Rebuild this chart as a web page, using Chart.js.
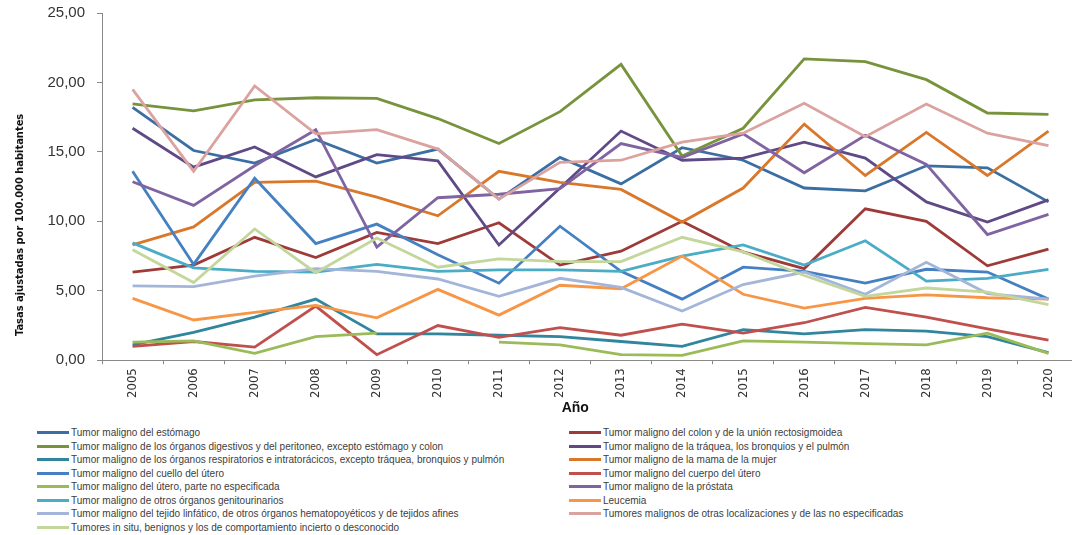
<!DOCTYPE html>
<html lang="es">
<head>
<meta charset="utf-8">
<title>Tasas ajustadas</title>
<script src="https://cdn.jsdelivr.net/npm/chart.js@4.4.1/dist/chart.umd.min.js"></script>
<style>
  html, body { margin: 0; padding: 0; background: #fff; overflow: hidden; }
  #wrap { position: relative; width: 1072px; height: 535px; overflow: hidden; }
  #chart { position: absolute; left: 0; top: 0; }
  #legend {
    position: absolute; left: 37px; top: 426px;
    display: grid; grid-template-columns: 532px 470px;
    font: 10px 'Liberation Sans', Arial, sans-serif; color: #404040;
  }
  .item { display: flex; align-items: center; height: 13.5px; white-space: nowrap; }
  .swatch { width: 32px; height: 3px; margin-right: 2px; flex: none; }
</style>
</head>
<body>
<div id="wrap">
  <canvas id="chart" width="1086" height="420"></canvas>
  <div id="legend"></div>
</div>
<script>
const years = ['2005', '2006', '2007', '2008', '2009', '2010', '2011', '2012',
  '2013', '2014', '2015', '2016', '2017', '2018', '2019', '2020'];
const yTicks = [0, 5, 10, 15, 20, 25];

const estomago =       [18.2, 15.1, 14.2, 15.9, 14.2, 15.2, 11.6, 14.6, 12.7, 15.3, 14.4, 12.4, 12.2, 14.0, 13.85, 11.4];
const colon =          [6.35, 6.85, 8.85, 7.4, 9.2, 8.4, 9.9, 6.85, 7.85, 10.0, 7.8, 6.6, 10.9, 10.0, 6.8, 8.0];
const digestivos =     [18.45, 17.95, 18.75, 18.9, 18.85, 17.4, 15.6, 17.9, 21.3, 14.7, 16.7, 21.7, 21.5, 20.2, 17.8, 17.7];
const traquea =        [16.7, 13.9, 15.35, 13.2, 14.8, 14.35, 8.3, 12.4, 16.5, 14.4, 14.55, 15.7, 14.55, 11.4, 9.95, 11.55];
const respiratorios =  [1.1, 2.0, 3.1, 4.4, 1.9, 1.9, 1.8, 1.7, 1.35, 1.0, 2.2, 1.9, 2.2, 2.1, 1.7, 0.55];
const mama =           [8.3, 9.6, 12.8, 12.9, 11.75, 10.4, 13.6, 12.8, 12.3, 9.95, 12.4, 17.0, 13.3, 16.4, 13.3, 16.5];
const cuello =         [13.6, 6.9, 13.1, 8.4, 9.8, 7.6, 5.55, 9.65, 6.4, 4.4, 6.7, 6.4, 5.55, 6.55, 6.35, 4.4];
const cuerpo =         [1.0, 1.35, 0.95, 3.9, 0.4, 2.5, 1.65, 2.35, 1.8, 2.6, 1.95, 2.7, 3.8, 3.1, 2.25, 1.45];
const uteroNoEsp =     [1.3, 1.4, 0.5, 1.7, 1.95, null, 1.3, 1.1, 0.4, 0.35, 1.4, 1.3, 1.2, 1.1, 1.95, 0.5];
const prostata =       [12.85, 11.15, 14.0, 16.6, 8.15, 11.7, 11.95, 12.35, 15.6, 14.6, 16.3, 13.5, 16.2, 14.1, 9.05, 10.5];
const genitourinarios = [8.45, 6.65, 6.4, 6.35, 6.9, 6.4, 6.5, 6.5, 6.4, 7.5, 8.3, 6.85, 8.6, 5.7, 5.9, 6.55];
const leucemia =       [4.45, 2.9, 3.45, 3.95, 3.05, 5.1, 3.25, 5.4, 5.15, 7.5, 4.75, 3.75, 4.45, 4.7, 4.5, 4.4];
const linfatico =      [5.35, 5.3, 6.05, 6.6, 6.4, 5.85, 4.6, 5.9, 5.25, 3.55, 5.45, 6.35, 4.75, 7.05, 4.8, 4.4];
const otras =          [19.5, 13.6, 19.75, 16.3, 16.6, 15.2, 11.6, 14.25, 14.4, 15.7, 16.35, 18.5, 16.1, 18.45, 16.35, 15.45];
const inSitu =         [7.95, 5.6, 9.45, 6.3, 8.8, 6.7, 7.3, 7.1, 7.1, 8.85, 7.8, 6.1, 4.6, 5.2, 4.9, 4.0];

const labels = [
  'Tumor maligno del estómago',
  'Tumor maligno del colon y de la unión rectosigmoidea',
  'Tumor maligno de los órganos digestivos y del peritoneo, excepto estómago y colon',
  'Tumor maligno de la tráquea, los bronquios y el pulmón',
  'Tumor maligno de los órganos respiratorios e intratorácicos, excepto tráquea, bronquios y pulmón',
  'Tumor maligno de la mama de la mujer',
  'Tumor maligno del cuello del útero',
  'Tumor maligno del cuerpo del útero',
  'Tumor maligno del útero, parte no especificada',
  'Tumor maligno de la próstata',
  'Tumor maligno de otros órganos genitourinarios',
  'Leucemia',
  'Tumor maligno del tejido linfático, de otros órganos hematopoyéticos y de tejidos afines',
  'Tumores malignos de otras localizaciones y de las no especificadas',
  'Tumores in situ, benignos y los de comportamiento incierto o desconocido'
];
const values = [estomago, colon, digestivos, traquea, respiratorios, mama, cuello, cuerpo,
  uteroNoEsp, prostata, genitourinarios, leucemia, linfatico, otras, inSitu];
const colors = ['#3b6fa3', '#9e3b38', '#77933c', '#5f4a86', '#31859c', '#d9772b', '#4580c2', '#c0504d',
  '#9bbb59', '#8064a2', '#4bacc6', '#f79646', '#a3b6da', '#dba3a0', '#c3d69b'];

const narrow = "'Liberation Sans Narrow', 'Arial Narrow', 'DejaVu Sans Condensed', sans-serif";
const axisGray = '#888888';
const xTitle = 'Año';
const yTitle = 'Tasas ajustadas por 100.000 habitantes';

const datasets = values.map((data, i) => ({
  label: labels[i],
  data: data,
  borderColor: colors[i],
  backgroundColor: colors[i],
  borderWidth: 2.8,
  pointRadius: 0,
  tension: 0,
  fill: false,
  spanGaps: false,
  order: values.length - i // later series on top, like the original
}));

// axis titles drawn by hand: in the original they sit off-centre
const axisTitles = {
  id: 'axisTitles',
  afterDraw(chart) {
    const { ctx, chartArea, scales } = chart;
    ctx.save();
    ctx.fillStyle = '#111';
    ctx.textAlign = 'center';
    ctx.textBaseline = 'middle';

    const x = (chartArea.left + scales.x.getPixelForValue(years.length - 1)) / 2;
    ctx.font = "bold 14px 'Liberation Sans', Arial, sans-serif";
    ctx.fillText(xTitle, x, scales.x.top + 48);

    const h = chartArea.bottom - chartArea.top;
    ctx.translate(20, chartArea.top + h * 0.61);
    ctx.rotate(-Math.PI / 2);
    ctx.font = 'bold 11px ' + narrow;
    ctx.fillText(yTitle, 0, 0);
    ctx.restore();
  }
};

const chart = new Chart(document.getElementById('chart'), {
  type: 'line',
  data: { labels: years, datasets: datasets },
  plugins: [axisTitles],
  options: {
    responsive: false,
    animation: false,
    devicePixelRatio: 1,
    layout: { padding: { left: 35.5, right: 7, top: 0, bottom: 18 } },
    plugins: {
      legend: { display: false },
      tooltip: { enabled: false }
    },
    scales: {
      x: {
        offset: true,
        grid: { offset: true, drawOnChartArea: false, tickLength: 4, color: axisGray },
        border: { color: axisGray, width: 1 },
        ticks: {
          minRotation: 90, maxRotation: 90, padding: 4,
          color: '#333', font: { family: narrow, size: 13 }
        }
      },
      y: {
        min: 0, max: 25,
        afterBuildTicks: scale => { scale.ticks = yTicks.map(v => ({ value: v })); },
        afterFit: scale => { scale.paddingTop = 13; }, // top tick sits close to the edge
        grid: { drawOnChartArea: false, tickLength: 5, color: axisGray },
        border: { color: axisGray, width: 1 },
        ticks: {
          padding: 12, color: '#333',
          font: { family: "'Liberation Sans', Arial, sans-serif", size: 15 },
          callback: v => v.toFixed(2).replace('.', ',')
        }
      }
    }
  }
});

// two-column legend under the chart, filled row by row like the original
const legendEl = document.getElementById('legend');
chart.data.datasets.forEach(ds => {
  const item = document.createElement('div');
  item.className = 'item';
  const sw = document.createElement('span');
  sw.className = 'swatch';
  sw.style.background = ds.borderColor;
  const txt = document.createElement('span');
  txt.textContent = ds.label;
  item.appendChild(sw);
  item.appendChild(txt);
  legendEl.appendChild(item);
});
</script>
</body>
</html>
